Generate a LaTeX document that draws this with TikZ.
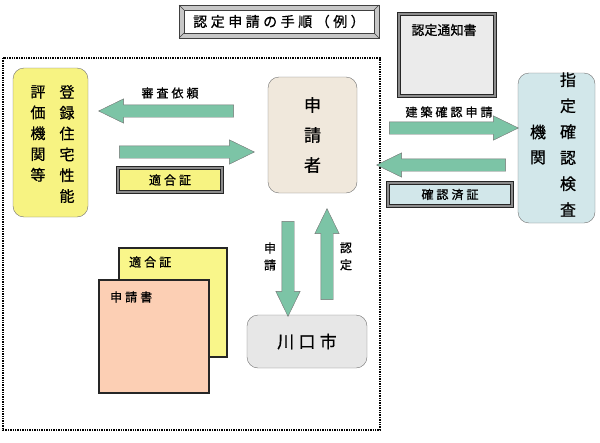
\documentclass[tikz,border=0pt]{standalone}
\usepackage{fontspec}
\usetikzlibrary{shapes.arrows}
\newfontfamily\jp[FakeBold=0.8]{Noto Sans CJK JP}
\newfontfamily\jpsp[LetterSpace=25,FakeBold=0.8]{Noto Sans CJK JP}
\definecolor{arrowgreen}{HTML}{7CC4A6}
\definecolor{hyokayel}{HTML}{F7F382}
\definecolor{shinseibg}{HTML}{F0E8DC}
\definecolor{kakuninbg}{HTML}{D2E7EA}
\definecolor{citygrey}{HTML}{E7E7E7}
\definecolor{paperyel}{HTML}{F9F68A}
\definecolor{papersal}{HTML}{FCCFB4}
\tikzset{
  blockarrow/.style={single arrow,draw=black!55,fill=arrowgreen,thin,inner xsep=0pt,inner ysep=6pt,
    minimum width=0pt,single arrow head extend=6pt,single arrow tip angle=52},
  roundbox/.style={draw=black!55,rounded corners=11pt,thin},
  framebox/.style={draw=black!85,line width=.8pt,double=black!45,double distance=1.8pt},
  paper/.style={draw=black!85,line width=1.2pt},
  lbl/.style={font=\jpsp\fontsize{12}{14}\selectfont,inner sep=0pt}
}
\begin{document}
\begin{tikzpicture}[x=1pt,y=-1pt,font=\jp\fontsize{12}{14}\selectfont]
  \useasboundingbox (0,0) rectangle (600,442);
  % title plate
  \fill[black!22](179,5) rectangle(379,38); \fill[white](184,10) rectangle(374,33);
  \draw[black!75](179,5) rectangle(379,38); \draw[black!75](184,10) rectangle(374,33);
  \draw[black!75](179,5)--(184,10) (379,5)--(374,10) (179,38)--(184,33) (379,38)--(374,33);
  \node[lbl,font=\jpsp\fontsize{14}{16}\selectfont] (title) at (279,21.5) {認定申請の手順（例）};
  % area of the city
  \draw[densely dotted,line width=1.4pt](3,58) rectangle(380,430);
  % registered evaluation body
  \node[roundbox,fill=hyokayel,minimum width=75,minimum height=149] (hyoka) at (50.5,142.5) {};
  \node[align=center,inner sep=0pt,font=\jp\fontsize{15}{20.8}\selectfont] (hyokaR) at (67,144) {登\\録\\住\\宅\\性\\能};
  \node[align=center,inner sep=0pt,font=\jp\fontsize{15}{20.8}\selectfont] (hyokaL) at (38,133.5) {評\\価\\機\\関\\等};
  % applicant
  \node[roundbox,fill=shinseibg,minimum width=89,minimum height=116,align=center,
    font=\jp\fontsize{17}{30}\selectfont] (applicant) at (312.5,135) {申\\請\\者};
  % designated inspection body
  \node[roundbox,fill=kakuninbg,minimum width=77,minimum height=150] (kakunin) at (556.5,148) {};
  \node[align=center,inner sep=0pt,font=\jp\fontsize{16}{26}\selectfont] (kakuninR) at (568,144.5) {指\\定\\確\\認\\検\\査};
  \node[align=center,inner sep=0pt,font=\jp\fontsize{16}{25}\selectfont] (kakuninL) at (538,144.5) {機\\関};
  % city
  \node[roundbox,fill=citygrey,minimum width=120,minimum height=53,
    font=\jpsp\fontsize{17}{20}\selectfont] (city) at (307,341.5) {川口市};
  % arrows between applicant and evaluation body
  \node[blockarrow,minimum height=135,rotate=180] (reqArrow) at (172.5,111) {};
  \node[lbl] (reqLbl) at (170,93) {審査依頼};
  \node[blockarrow,minimum height=135] (tekigoArrow) at (180.5,152) {};
  \node[framebox,fill=hyokayel,minimum width=104,minimum height=24,lbl] (tekigoBox) at (170,180) {適合証};
  % arrows between applicant and inspection body
  \node[framebox,fill=black!8,minimum width=96,minimum height=82] (notice) at (447,55) {};
  \node[inner sep=0pt,font=\jp\fontsize{13}{15}\selectfont] (noticeLbl) at (444,30) {認定通知書};
  \node[lbl] (kenchikuLbl) at (449,112) {建築確認申請};
  \node[blockarrow,minimum height=129] (kenchikuArrow) at (447.5,128) {};
  \node[blockarrow,minimum height=129,rotate=180] (sumiArrow) at (447.5,165) {};
  \node[framebox,fill=kakuninbg,minimum width=124,minimum height=23,lbl] (sumiBox) at (450,194.5) {確認済証};
  % arrows between applicant and city
  \node[blockarrow,minimum height=95,rotate=270] (shinseiArrow) at (288,262.5) {};
  \node[blockarrow,minimum height=91,rotate=90] (ninteiArrow) at (327,260.5) {};
  \node[align=center,inner sep=0pt,font=\jp\fontsize{12}{17}\selectfont] (shinseiLbl) at (270,256.5) {申\\請};
  \node[align=center,inner sep=0pt,font=\jp\fontsize{12}{17}\selectfont] (ninteiLbl) at (346,256.5) {認\\定};
  % documents
  \node[paper,fill=paperyel,minimum width=108,minimum height=109] (tekigoPaper) at (173,302.5) {};
  \node[lbl,anchor=west] (tekigoPaperLbl) at (129,262) {適合証};
  \node[paper,fill=papersal,minimum width=110,minimum height=113] (shinseiPaper) at (154,336.5) {};
  \node[lbl,anchor=west] (shinseiPaperLbl) at (110,297) {申請書};
\end{tikzpicture}
\end{document}
